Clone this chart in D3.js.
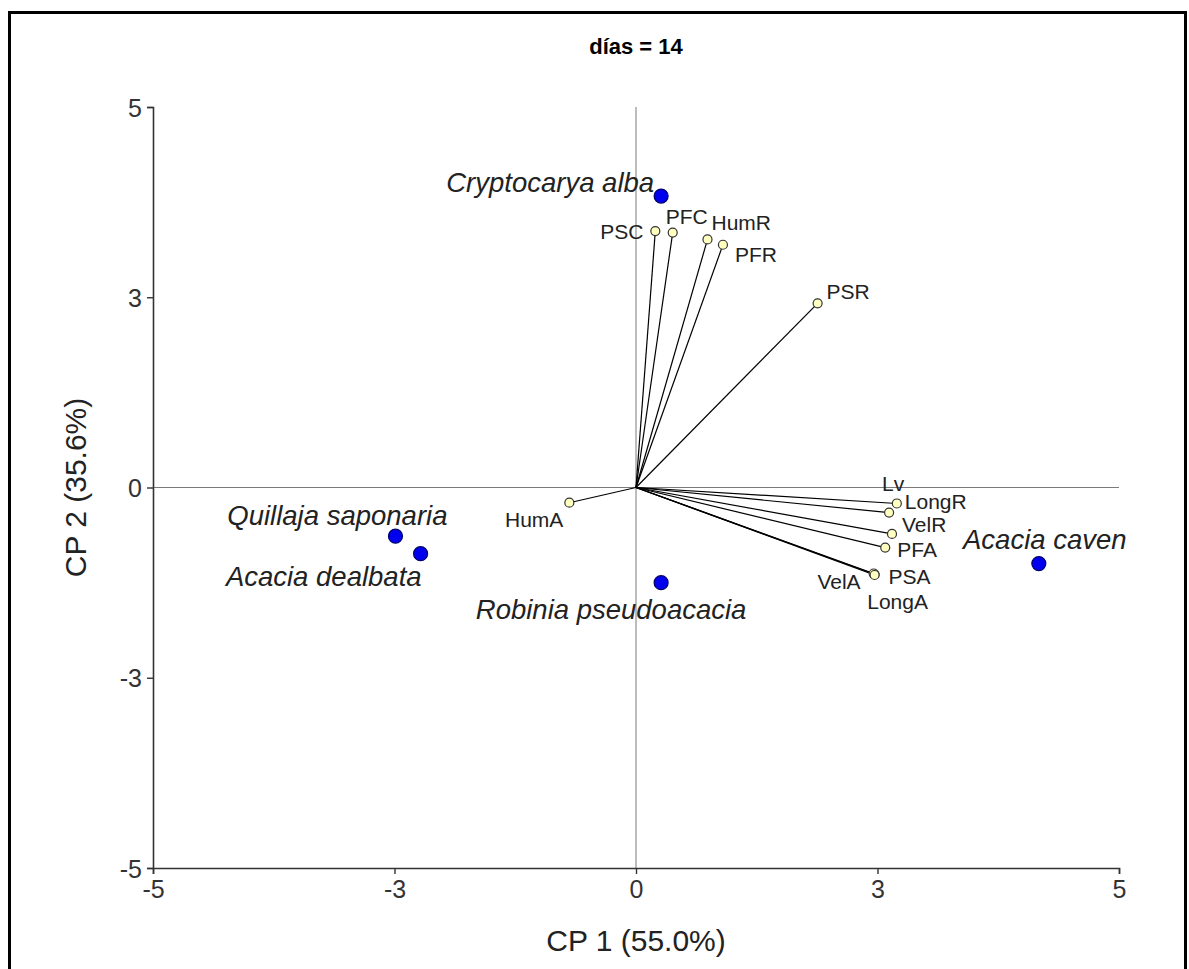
<!DOCTYPE html>
<html>
<head>
<meta charset="utf-8">
<script src="https://cdn.jsdelivr.net/npm/d3@7"></script>
<style>
  html, body { margin: 0; padding: 0; background: #ffffff; }
  svg { display: block; }
  text { font-family: "Liberation Sans", Arial, Helvetica, sans-serif; }
</style>
</head>
<body>
<div id="chart"></div>
<script>
// ---------------- data ----------------
const chartTitle = "días = 14";
const xAxisTitle = "CP 1 (55.0%)";
const yAxisTitle = "CP 2 (35.6%)";

const tickValues = [-5, -2.5, 0, 2.5, 5];
const tickLabels = ["-5", "-3", "0", "3", "5"];

// species scores (blue points)
const speciesNames = ["Cryptocarya alba", "Quillaja saponaria", "Acacia dealbata", "Robinia pseudoacacia", "Acacia caven"];
const speciesCP1 = [0.26, -2.49, -2.23, 0.26, 4.17];
const speciesCP2 = [3.83, -0.64, -0.87, -1.25, -1.00];

// variable vectors (yellow tips)
const variableNames = ["PSC", "PFC", "HumR", "PFR", "PSR", "HumA", "Lv", "LongR", "VelR", "PFA", "PSA", "VelA", "LongA"];
const variableCP1 = [0.20, 0.38, 0.74, 0.90, 1.88, -0.69, 2.62, 2.70, 2.65, 2.58, 2.47, 2.46, 2.47];
const variableCP2 = [3.37, 3.35, 3.26, 3.19, 2.42, -0.20, -0.33, -0.21, -0.61, -0.79, -1.14, -1.13, -1.15];

// ---------------- layout / style (not data) ----------------
const W = 1189, H = 969;
const plot = { left: 153, right: 1119, top: 107, bottom: 868 };

const speciesLabelPlacement = {
  "Cryptocarya alba":     { dx: -7,  dy: -14, anchor: "end" },
  "Quillaja saponaria":   { dx: 52,  dy: -21, anchor: "end" },
  "Acacia dealbata":      { dx: 1,   dy: 23,  anchor: "end" },
  "Robinia pseudoacacia": { dx: -50, dy: 27,  anchor: "middle" },
  "Acacia caven":         { dx: 6,   dy: -24, anchor: "middle" }
};
const variableLabelPlacement = {
  "PSC":   { dx: -12, dy: 0,   anchor: "end" },
  "PFC":   { dx: -7,  dy: -16, anchor: "start" },
  "HumR":  { dx: 4,   dy: -17, anchor: "start" },
  "PFR":   { dx: 12,  dy: 10,  anchor: "start" },
  "PSR":   { dx: 9,   dy: -12, anchor: "start" },
  "HumA":  { dx: -6,  dy: 17,  anchor: "end" },
  "Lv":    { dx: -7,  dy: -29, anchor: "start" },
  "LongR": { dx: 8,   dy: -2,  anchor: "start" },
  "VelR":  { dx: 10,  dy: -9,  anchor: "start" },
  "PFA":   { dx: 12,  dy: 2,   anchor: "start" },
  "PSA":   { dx: 14,  dy: 2,   anchor: "start" },
  "VelA":  { dx: -13, dy: 8,   anchor: "end" },
  "LongA": { dx: 23,  dy: 26,  anchor: "middle" }
};

// ---------------- drawing ----------------
const svg = d3.select("#chart").append("svg")
  .attr("width", W).attr("height", H);

svg.append("rect").attr("width", W).attr("height", H).attr("fill", "#ffffff");

// outer frame
svg.append("rect")
  .attr("x", 9.5).attr("y", 12.5)
  .attr("width", 1176).attr("height", 980)
  .attr("fill", "none").attr("stroke", "#000").attr("stroke-width", 3);

const x = d3.scaleLinear().domain([-5, 5]).range([plot.left, plot.right]);
const y = d3.scaleLinear().domain([-5, 5]).range([plot.bottom, plot.top]);

// zero reference lines
svg.append("line")
  .attr("x1", x(0)).attr("x2", x(0)).attr("y1", y(5)).attr("y2", y(-5))
  .attr("stroke", "#7a7a7a").attr("stroke-width", 1);
svg.append("line")
  .attr("x1", x(-5)).attr("x2", x(5)).attr("y1", y(0)).attr("y2", y(0))
  .attr("stroke", "#7a7a7a").attr("stroke-width", 1);

// axes
const fmt = d => tickLabels[tickValues.indexOf(d)];
const xAxis = svg.append("g")
  .attr("transform", `translate(0,${plot.bottom})`)
  .call(d3.axisBottom(x).tickValues(tickValues).tickFormat(fmt).tickSizeOuter(0).tickSize(6).tickPadding(6));
const yAxis = svg.append("g")
  .attr("transform", `translate(${plot.left},0)`)
  .call(d3.axisLeft(y).tickValues(tickValues).tickFormat(fmt).tickSizeOuter(0).tickSize(6).tickPadding(5));

[xAxis, yAxis].forEach(g => {
  g.select(".domain").attr("stroke", "#333").attr("stroke-width", 1.6);
  g.selectAll(".tick line").attr("stroke", "#333").attr("stroke-width", 1.4);
  g.selectAll(".tick text")
    .attr("fill", "#333")
    .style("font-size", "25px")
    .style("font-family", "'Liberation Sans', Arial, sans-serif");
});
yAxis.selectAll(".tick text").attr("dy", "0.36em");

// vectors
svg.append("g").selectAll("line")
  .data(variableNames)
  .join("line")
  .attr("x1", x(0)).attr("y1", y(0))
  .attr("x2", (d, i) => x(variableCP1[i]))
  .attr("y2", (d, i) => y(variableCP2[i]))
  .attr("stroke", "#000").attr("stroke-width", 1.2);

// vector tips
svg.append("g").selectAll("circle")
  .data(variableNames)
  .join("circle")
  .attr("cx", (d, i) => x(variableCP1[i]))
  .attr("cy", (d, i) => y(variableCP2[i]))
  .attr("r", 4.5)
  .attr("fill", "#ffffc0").attr("stroke", "#333").attr("stroke-width", 1.2);

// vector labels
svg.append("g").selectAll("text")
  .data(variableNames)
  .join("text")
  .attr("x", (d, i) => x(variableCP1[i]) + variableLabelPlacement[d].dx)
  .attr("y", (d, i) => y(variableCP2[i]) + variableLabelPlacement[d].dy)
  .attr("text-anchor", d => variableLabelPlacement[d].anchor)
  .attr("dominant-baseline", "central")
  .attr("fill", "#222")
  .style("font-size", "21px")
  .text(d => d);

// species points
svg.append("g").selectAll("circle")
  .data(speciesNames)
  .join("circle")
  .attr("cx", (d, i) => x(speciesCP1[i]))
  .attr("cy", (d, i) => y(speciesCP2[i]))
  .attr("r", 7)
  .attr("fill", "#0000ee").attr("stroke", "#00006a").attr("stroke-width", 1.2);

// species labels
svg.append("g").selectAll("text")
  .data(speciesNames)
  .join("text")
  .attr("x", (d, i) => x(speciesCP1[i]) + speciesLabelPlacement[d].dx)
  .attr("y", (d, i) => y(speciesCP2[i]) + speciesLabelPlacement[d].dy)
  .attr("text-anchor", d => speciesLabelPlacement[d].anchor)
  .attr("dominant-baseline", "central")
  .attr("fill", "#222")
  .style("font-size", "27.5px")
  .style("font-style", "italic")
  .text(d => d);

// title
svg.append("text")
  .attr("x", x(0)).attr("y", 46)
  .attr("text-anchor", "middle").attr("dominant-baseline", "central")
  .style("font-size", "22px").style("font-weight", "bold")
  .attr("fill", "#000")
  .text(chartTitle);

// axis titles
svg.append("text")
  .attr("x", x(0)).attr("y", 940)
  .attr("text-anchor", "middle").attr("dominant-baseline", "central")
  .style("font-size", "30px").attr("fill", "#222")
  .text(xAxisTitle);
svg.append("text")
  .attr("transform", `translate(75,${y(0)}) rotate(-90)`)
  .attr("text-anchor", "middle").attr("dominant-baseline", "central")
  .style("font-size", "30px").attr("fill", "#222")
  .text(yAxisTitle);
</script>
</body>
</html>
